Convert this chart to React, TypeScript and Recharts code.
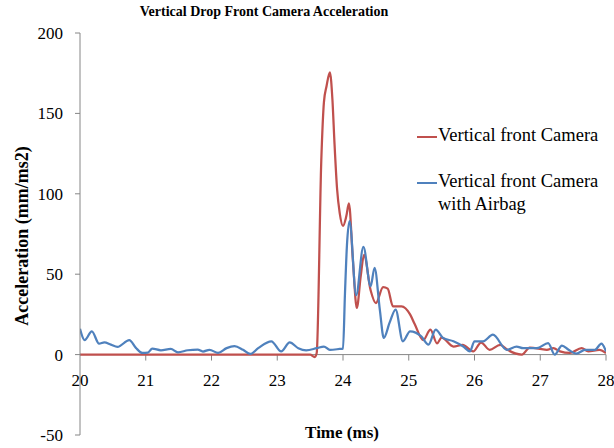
import React from 'react';
import { LineChart, Line, XAxis, YAxis, ReferenceLine } from 'recharts';

const xTicks = [20, 21, 22, 23, 24, 25, 26, 27, 28];
const yTicks = [-50, 0, 50, 100, 150, 200];

const redX = [20, 23.5, 23.57, 23.6, 23.67, 23.71, 23.75, 23.8, 23.84, 23.87, 23.91, 23.95, 24.0, 24.05, 24.09, 24.15, 24.21, 24.27, 24.32, 24.42, 24.5, 24.61, 24.68, 24.76, 24.89, 25.02, 25.09, 25.22, 25.33, 25.43, 25.5, 25.68, 25.82, 25.98, 26.1, 26.23, 26.39, 26.5, 26.72, 26.84, 27.1, 27.2, 27.3, 27.45, 27.63, 27.73, 27.9, 28];
const redY = [0, 0, -1.5, 1, 121, 157, 167, 175.5, 158, 132, 103, 88, 80, 86, 94, 59, 29, 49, 62, 40, 32, 42, 41, 30, 30, 25, 19, 9, 15.5, 7, 10.6, 5, 6, 2, 7.5, 3, 6, 3, 0, 4.3, 3, 4, 2, 1, 4, 2, 3, 1];

const blueX = [20, 20.07, 20.18, 20.29, 20.37, 20.47, 20.57, 20.75, 20.85, 20.95, 21.03, 21.1, 21.23, 21.38, 21.49, 21.64, 21.79, 21.87, 21.97, 22.1, 22.23, 22.35, 22.48, 22.59, 22.71, 22.91, 23.06, 23.19, 23.32, 23.44, 23.6, 23.71, 23.8, 23.95, 24.0, 24.03, 24.06, 24.1, 24.2, 24.31, 24.42, 24.48, 24.56, 24.62, 24.71, 24.8, 24.91, 25.02, 25.19, 25.3, 25.41, 25.52, 25.68, 25.83, 25.93, 26.0, 26.13, 26.28, 26.49, 26.64, 26.74, 26.95, 27.12, 27.22, 27.33, 27.43, 27.55, 27.68, 27.83, 27.93, 28];
const blueY = [16, 9, 14.5, 6.8, 7.6, 6.2, 4.8, 9, 4.2, 1, 1.2, 3.7, 2.7, 3.5, 1.4, 2.7, 3.1, 1.9, 3, 1, 4, 5.2, 3, 0.4, 4, 8.3, 2, 7.6, 4, 2.7, 4, 5, 3, 3.5, 3.7, 38, 68, 83, 37, 67, 42.5, 54, 28, 10.4, 20, 28, 8.3, 14.5, 11.4, 6.2, 15.5, 10.4, 8.3, 5, 2, 8.3, 8.3, 12.4, 3, 5, 4, 4, 7.2, 0, 5.6, 3, 0.6, 3, 3, 6.8, 2];

const seriesNames = ['Vertical front Camera', 'Vertical front Camera with Airbag'];

const redData = redX.map((t, i) => ({ t, v: redY[i] }));
const blueData = blueX.map((t, i) => ({ t, v: blueY[i] }));

const RED = '#C0504D';
const BLUE = '#4F81BD';
const AXIS = '#868686';
const FONT = 'Liberation Serif';

const XTick = (props: any) => {
  const { x, y, payload } = props;
  return (
    <text x={x} y={y - 49} textAnchor="middle" fontSize={17} fontFamily={FONT} fill="#000">
      {payload.value}
    </text>
  );
};

export default function App() {
  return (
    <div style={{ position: 'absolute', left: 0, top: 0, width: 614, height: 448, background: '#fff' }}>
      <div style={{ position: 'absolute', left: 0, top: 4, width: 528, textAlign: 'center', fontFamily: FONT, fontWeight: 'bold', fontSize: 14, color: '#000' }}>
        Vertical Drop Front Camera Acceleration
      </div>
      <div style={{ position: 'absolute', left: 22, top: 236, transform: 'translate(-50%, -50%) rotate(-90deg)', whiteSpace: 'nowrap', fontFamily: FONT, fontWeight: 'bold', fontSize: 18, color: '#000' }}>
        Acceleration (mm/ms2)
      </div>
      <div style={{ position: 'absolute', left: 342, top: 433, transform: 'translate(-50%, -50%)', whiteSpace: 'nowrap', fontFamily: FONT, fontWeight: 'bold', fontSize: 17, color: '#000' }}>
        Time (ms)
      </div>
      <div style={{ position: 'absolute', left: 417, top: 124, width: 200, fontFamily: FONT, fontSize: 18.5, color: '#000', lineHeight: '23px', zIndex: 2 }}>
        <div style={{ display: 'flex', alignItems: 'flex-start' }}>
          <div style={{ width: 20, height: 2, background: RED, marginTop: 12, marginRight: 1 }} />
          <div style={{ whiteSpace: 'nowrap' }}>{seriesNames[0]}</div>
        </div>
        <div style={{ display: 'flex', alignItems: 'flex-start', marginTop: 23 }}>
          <div style={{ width: 20, height: 2, background: BLUE, marginTop: 12, marginRight: 1 }} />
          <div style={{ width: 172 }}>{seriesNames[1]}</div>
        </div>
      </div>
      <LineChart width={614} height={448} margin={{ top: 33, right: 8, bottom: 12, left: 0 }}>
        <XAxis
          type="number"
          dataKey="t"
          domain={[20, 28]}
          ticks={xTicks}
          allowDataOverflow
          axisLine={false}
          tickLine={false}
          tickSize={0}
          tickMargin={0}
          height={1}
          tick={<XTick />}
          interval={0}
        />
        <YAxis
          type="number"
          domain={[-50, 200]}
          ticks={yTicks}
          width={80}
          axisLine={{ stroke: AXIS }}
          tickLine={{ stroke: AXIS }}
          tickSize={5}
          tickMargin={12}
          interval={0}
          tick={{ fontSize: 17, fill: '#000', fontFamily: FONT }}
        />
        <ReferenceLine y={0} stroke={AXIS} />
        {xTicks.slice(1).map((t) => (
          <ReferenceLine key={t} segment={[{ x: t, y: 0 }, { x: t, y: -3.7 }]} stroke={AXIS} />
        ))}
        <Line data={redData} dataKey="v" type="monotone" stroke={RED} strokeWidth={2.25} dot={false} isAnimationActive={false} name={seriesNames[0]} />
        <Line data={blueData} dataKey="v" type="monotone" stroke={BLUE} strokeWidth={2.25} dot={false} isAnimationActive={false} name={seriesNames[1]} />
      </LineChart>
    </div>
  );
}
